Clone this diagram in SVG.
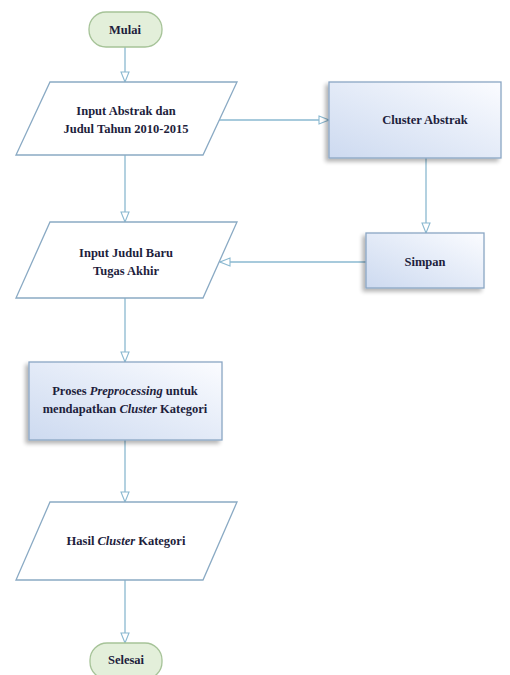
<svg xmlns="http://www.w3.org/2000/svg" width="510" height="675" viewBox="0 0 510 675">
<defs>
  <linearGradient id="boxGrad" x1="0" y1="1" x2="1" y2="0">
    <stop offset="0" stop-color="#cddaf0"/>
    <stop offset="0.6" stop-color="#e8eef9"/>
    <stop offset="1" stop-color="#fbfcff"/>
  </linearGradient>
  <filter id="shadow" x="-20%" y="-20%" width="140%" height="150%">
    <feGaussianBlur in="SourceAlpha" stdDeviation="2"/>
    <feOffset dx="-3" dy="3" result="b"/>
    <feComponentTransfer><feFuncA type="linear" slope="0.3"/></feComponentTransfer>
    <feMerge><feMergeNode/><feMergeNode in="SourceGraphic"/></feMerge>
  </filter>
  <marker id="arrow" viewBox="0 0 12 10" refX="11" refY="5" markerWidth="12" markerHeight="10" markerUnits="userSpaceOnUse" orient="auto">
    <path d="M1,1 L11,5 L1,9 Z" fill="#ffffff" stroke="#8ab8d0" stroke-width="1.1"/>
  </marker>
</defs>
<style>
  .term { fill: #e3efda; stroke: #a6c398; stroke-width: 1.3; }
  .io { fill: #ffffff; stroke: #8aaac4; stroke-width: 1.3; }
  .proc { fill: url(#boxGrad); stroke: #8aa6c4; stroke-width: 1.3; filter: url(#shadow); }
  .conn { fill: none; stroke: #8ab8d0; stroke-width: 1.3; marker-end: url(#arrow); }
  .lbl { fill: #1e1e3c; text-anchor: middle; }
  .it { font-style: italic; }
</style>
<rect width="510" height="675" fill="#ffffff"/>

<g id="connectors">
  <line class="conn" x1="125" y1="47" x2="125" y2="82"/>
  <line class="conn" x1="219" y1="120" x2="329" y2="120"/>
  <line class="conn" x1="426" y1="158" x2="426" y2="233"/>
  <line class="conn" x1="366" y1="262" x2="220" y2="262"/>
  <line class="conn" x1="125" y1="155" x2="125" y2="222"/>
  <line class="conn" x1="125" y1="298" x2="125" y2="362"/>
  <line class="conn" x1="125" y1="440" x2="125" y2="502"/>
  <line class="conn" x1="125" y1="580" x2="125" y2="643"/>
</g>

<g font-family="Liberation Serif" font-weight="bold" font-size="12.5">
<g id="mulai">
  <rect class="term" x="89" y="12" width="73" height="35" rx="17" ry="17"/>
  <text class="lbl" x="125" y="34">Mulai</text>
</g>

<g id="input-abstrak">
  <polygon class="io" points="50,82 237,82 203,155 16,155"/>
  <text class="lbl" x="126" y="115">Input Abstrak dan</text>
  <text class="lbl" x="126" y="133">Judul Tahun 2010-2015</text>
</g>

<g id="cluster-abstrak">
  <rect class="proc" x="329" y="82" width="172" height="76"/>
  <text class="lbl" x="425" y="124">Cluster Abstrak</text>
</g>

<g id="simpan">
  <rect class="proc" x="366" y="233" width="118" height="55"/>
  <text class="lbl" x="425" y="266">Simpan</text>
</g>

<g id="input-judul">
  <polygon class="io" points="50,222 237,222 203,298 16,298"/>
  <text class="lbl" x="126" y="257">Input Judul Baru</text>
  <text class="lbl" x="126" y="275">Tugas Akhir</text>
</g>

<g id="proses">
  <rect class="proc" x="29" y="362" width="193" height="78"/>
  <text class="lbl" x="125" y="395">Proses <tspan class="it">Preprocessing</tspan> untuk</text>
  <text class="lbl" x="125" y="413">mendapatkan <tspan class="it">Cluster</tspan> Kategori</text>
</g>

<g id="hasil">
  <polygon class="io" points="50,502 237,502 203,580 16,580"/>
  <text class="lbl" x="126" y="545">Hasil <tspan class="it">Cluster</tspan> Kategori</text>
</g>

<g id="selesai">
  <rect class="term" x="90" y="643" width="72" height="36" rx="17" ry="17"/>
  <text class="lbl" x="126" y="664">Selesai</text>
</g>
</g>
</svg>
